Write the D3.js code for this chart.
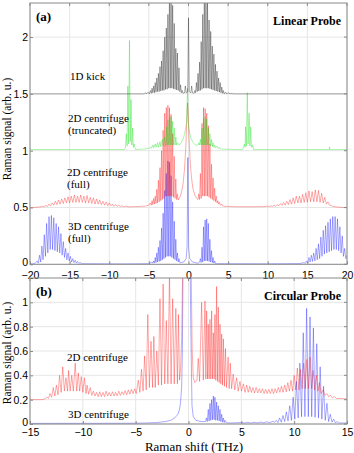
<!DOCTYPE html>
<html>
<head>
<meta charset="utf-8">
<script src="https://cdn.jsdelivr.net/npm/d3@7"></script>
<style>
  body { margin: 0; background: #fff; }
  svg text { fill: #000; }
</style>
</head>
<body>
<div id="chart-area"></div>
<script>
// ---- panel (a): linear probe, traces offset by 0.5 ----
const xTicksA = [-20, -15, -10, -5, 0, 5, 10, 15, 20];
const yTicksA = [0, 0.5, 1, 1.5, 2];

const kick1D = [[-20,1.5],[-5.6,1.5],[-5.4,1.51],[-5.3,1.5],[-5.1,1.515],[-4.95,1.5],
  [-4.8,1.53],[-4.7,1.505],[-4.6,1.55],[-4.5,1.51],[-4.4,1.57],[-4.3,1.51],[-4.2,1.6],[-4.1,1.515],[-4.0,1.64],[-3.9,1.52],
  [-3.8,1.68],[-3.7,1.52],[-3.6,1.74],[-3.5,1.525],[-3.4,1.79],[-3.3,1.53],[-3.2,1.88],[-3.1,1.53],[-3.0,2.0],[-2.9,1.54],
  [-2.8,2.08],[-2.7,1.54],[-2.6,2.2],[-2.5,1.55],[-2.4,2.4],[-2.3,1.55],[-2.2,2.4],[-2.1,1.55],[-2.0,2.28],[-1.9,1.545],
  [-1.8,2.12],[-1.7,1.54],[-1.6,1.9],[-1.5,1.535],[-1.4,1.86],[-1.3,1.53],[-1.2,1.73],[-1.1,1.52],[-1.0,1.58],[-0.9,1.51],
  [-0.8,1.53],[-0.7,1.505],[-0.5,1.51],[-0.4,1.57],[-0.3,1.51],[-0.1,1.52],[0,2.17],[0.1,1.52],[0.3,1.51],[0.4,1.57],[0.5,1.51],
  [0.7,1.505],[0.8,1.53],[0.9,1.51],[1.0,1.6],[1.1,1.52],[1.2,1.68],[1.3,1.525],[1.4,1.78],[1.5,1.53],[1.6,1.96],[1.7,1.54],
  [1.8,2.2],[1.9,1.55],[2.0,2.4],[2.1,1.55],[2.2,2.4],[2.3,1.55],[2.4,2.3],[2.5,1.55],[2.6,2.15],[2.7,1.545],[2.8,2.05],
  [2.9,1.54],[3.0,1.92],[3.1,1.535],[3.2,1.85],[3.3,1.53],[3.4,1.76],[3.5,1.525],[3.6,1.7],[3.7,1.52],[3.8,1.64],[3.9,1.515],
  [4.0,1.6],[4.1,1.51],[4.2,1.56],[4.3,1.505],[4.4,1.53],[4.5,1.5],[4.7,1.515],[4.8,1.5],[5.1,1.51],[5.2,1.5],[5.5,1.505],
  [5.6,1.5],[20,1.5]];

const centrifuge2DTrunc = [[-20,1.01],[-8.1,1.01],[-7.95,1.03],[-7.85,1.15],[-7.75,1.04],[-7.65,1.57],[-7.55,1.06],
  [-7.45,1.97],[-7.35,1.08],[-7.25,1.45],[-7.15,1.05],[-7.05,1.2],[-6.95,1.03],[-6.85,1.06],[-6.7,1.01],[-5.5,1.015],[-5.0,1.02],
  [-4.8,1.03],[-4.7,1.02],[-4.5,1.05],[-4.4,1.025],[-4.2,1.06],[-4.1,1.03],[-3.9,1.07],[-3.8,1.03],[-3.6,1.08],[-3.5,1.035],
  [-3.3,1.1],[-3.2,1.04],[-3.0,1.12],[-2.9,1.04],[-2.8,1.21],[-2.7,1.05],[-2.6,1.27],[-2.5,1.05],[-2.4,1.3],[-2.3,1.05],
  [-2.2,1.3],[-2.1,1.05],[-2.0,1.26],[-1.9,1.05],[-1.8,1.2],[-1.7,1.05],[-1.6,1.12],[-1.5,1.05],[-1.4,1.07],
  [-1.2,1.05],[-0.9,1.07],[-0.6,1.12],[-0.4,1.18],[-0.25,1.25],[-0.12,1.55],[-0.05,1.25],[0.1,1.17],[0.3,1.11],[0.6,1.07],
  [0.9,1.05],[1.2,1.05],[1.3,1.07],[1.4,1.05],[1.5,1.1],[1.6,1.05],[1.7,1.2],[1.8,1.05],[1.9,1.28],[2.0,1.05],[2.1,1.3],
  [2.2,1.05],[2.3,1.28],[2.4,1.05],[2.5,1.2],[2.6,1.05],[2.7,1.15],[2.8,1.04],[2.9,1.1],[3.0,1.035],[3.1,1.07],[3.2,1.03],
  [3.3,1.05],[3.4,1.025],[3.6,1.04],[3.7,1.02],[3.9,1.03],[4.0,1.015],[5,1.012],[6.8,1.01],[6.95,1.03],[7.05,1.06],[7.15,1.03],
  [7.2,1.21],[7.3,1.04],[7.42,1.51],[7.52,1.06],[7.65,1.33],[7.75,1.04],[7.85,1.21],[7.95,1.03],[8.1,1.05],[8.2,1.01],
  [17.75,1.01],[17.8,1.035],[17.85,1.01],[20,1.01]];

const centrifuge2DFull = [[-20,0.5],[-19,0.503],[-18.6,0.506],
  [-18.4,0.51],[-18.2,0.505],[-18.0,0.52],[-17.8,0.51],[-17.6,0.53],[-17.4,0.515],[-17.2,0.54],[-17.0,0.52],[-16.8,0.555],
  [-16.6,0.525],[-16.4,0.565],[-16.2,0.53],[-16.0,0.575],[-15.8,0.535],[-15.6,0.585],[-15.4,0.54],[-15.2,0.595],[-15.0,0.54],
  [-14.8,0.6],[-14.6,0.545],[-14.4,0.61],[-14.2,0.545],[-14.0,0.6],[-13.8,0.545],[-13.6,0.61],[-13.4,0.545],[-13.2,0.6],
  [-13.0,0.54],[-12.8,0.605],[-12.6,0.54],[-12.4,0.59],[-12.2,0.535],[-12.0,0.585],[-11.8,0.53],[-11.6,0.575],[-11.4,0.53],
  [-11.2,0.565],[-11.0,0.525],[-10.8,0.555],[-10.6,0.52],[-10.4,0.55],[-10.2,0.515],[-10.0,0.54],[-9.8,0.515],[-9.6,0.53],
  [-9.4,0.51],[-9.2,0.525],[-9.0,0.51],[-8.8,0.52],[-8.6,0.508],[-8.4,0.515],[-8.2,0.507],[-8.0,0.512],[-7.5,0.506],
  [-6.5,0.508],[-5.5,0.512],
  [-5.0,0.52],[-4.8,0.54],[-4.7,0.52],[-4.6,0.56],[-4.5,0.525],[-4.4,0.58],[-4.3,0.53],[-4.2,0.6],[-4.1,0.535],[-4.0,0.66],
  [-3.9,0.54],[-3.8,0.74],[-3.7,0.55],[-3.6,0.85],[-3.5,0.56],[-3.4,1.0],[-3.3,0.57],[-3.2,1.18],[-3.1,0.58],[-3.0,1.33],
  [-2.9,0.6],[-2.8,1.38],[-2.7,0.6],[-2.6,1.4],[-2.5,0.6],[-2.4,1.38],[-2.3,0.6],[-2.2,1.32],[-2.1,0.6],[-2.0,1.15],[-1.9,0.59],
  [-1.8,0.95],[-1.7,0.58],[-1.6,0.75],[-1.5,0.57],[-1.4,0.62],[-1.3,0.565],
  [-1.1,0.59],[-0.9,0.63],[-0.7,0.7],[-0.5,0.84],[-0.35,1.02],[-0.22,1.25],[-0.12,1.42],[-0.02,1.3],[0.08,1.1],[0.2,0.92],
  [0.35,0.78],[0.55,0.67],[0.8,0.61],[1.05,0.58],[1.2,0.57],
  [1.3,0.62],[1.4,0.57],[1.5,0.8],[1.6,0.58],[1.7,1.24],[1.8,0.6],[1.9,1.38],[2.0,0.6],[2.1,1.37],[2.2,0.6],[2.3,1.33],
  [2.4,0.6],[2.5,1.22],[2.6,0.59],[2.7,1.06],[2.8,0.58],[2.9,0.88],[3.0,0.57],[3.1,0.76],[3.2,0.56],[3.3,0.67],[3.4,0.55],
  [3.5,0.6],[3.6,0.54],[3.7,0.56],[3.8,0.53],[3.9,0.545],[4.0,0.52],[4.2,0.53],[4.3,0.515],[4.6,0.51],[6,0.507],[8,0.507],
  [9.5,0.508],
  [10.0,0.512],[10.2,0.508],[10.4,0.515],[10.6,0.51],[10.8,0.52],[11.0,0.512],[11.2,0.525],[11.4,0.515],[11.6,0.535],
  [11.8,0.518],[12.0,0.545],[12.2,0.52],[12.4,0.555],[12.6,0.525],[12.8,0.57],[13.0,0.53],[13.2,0.585],[13.4,0.535],
  [13.6,0.6],[13.8,0.54],[14.0,0.6],[14.2,0.54],[14.4,0.615],[14.6,0.545],[14.8,0.63],[15.0,0.545],[15.2,0.645],[15.4,0.55],
  [15.6,0.64],[15.8,0.55],[16.0,0.655],[16.2,0.55],[16.4,0.65],[16.6,0.545],[16.8,0.625],[17.0,0.54],[17.2,0.59],[17.4,0.53],
  [17.6,0.55],[17.8,0.52],[18.0,0.52],[18.2,0.51],[18.6,0.505],[19.5,0.5],[20,0.497]];

const centrifuge3DFull = [[-20,0.003],[-19.4,0.005],
  [-19.1,0.03],[-18.95,0.01],[-18.8,0.08],[-18.65,0.02],[-18.5,0.16],[-18.35,0.04],[-18.2,0.26],[-18.05,0.07],[-17.9,0.36],
  [-17.75,0.1],[-17.6,0.42],[-17.45,0.13],[-17.3,0.43],[-17.15,0.13],[-17.0,0.41],[-16.85,0.12],[-16.7,0.36],[-16.55,0.11],
  [-16.4,0.33],[-16.25,0.1],[-16.1,0.27],[-15.95,0.08],[-15.8,0.2],[-15.65,0.06],[-15.5,0.14],[-15.35,0.04],[-15.2,0.1],
  [-15.05,0.03],[-14.9,0.07],[-14.75,0.02],[-14.6,0.05],[-14.45,0.015],[-14.3,0.035],[-14.15,0.01],[-14.0,0.025],
  [-13.85,0.008],[-13.7,0.015],[-13.4,0.005],[-8,0.003],[-5,0.005],
  [-4.6,0.02],[-4.5,0.01],[-4.4,0.03],[-4.3,0.012],[-4.2,0.06],[-4.1,0.015],[-4.0,0.1],[-3.9,0.02],[-3.8,0.15],[-3.7,0.025],
  [-3.6,0.21],[-3.5,0.03],[-3.4,0.32],[-3.3,0.04],[-3.2,0.45],[-3.1,0.05],[-3.0,0.65],[-2.9,0.06],[-2.8,0.8],[-2.7,0.07],
  [-2.6,0.91],[-2.5,0.07],[-2.4,0.9],[-2.3,0.07],[-2.2,0.78],[-2.1,0.06],[-2.0,0.55],[-1.9,0.05],[-1.8,0.38],[-1.7,0.04],
  [-1.6,0.22],[-1.5,0.03],[-1.4,0.1],[-1.3,0.02],[-1.2,0.05],[-1.1,0.015],
  [-0.6,0.02],[-0.3,0.05],[-0.18,0.15],[-0.08,0.94],[0.02,0.15],[0.15,0.05],[0.5,0.02],[1.2,0.01],
  [1.4,0.02],[1.5,0.05],[1.6,0.015],[1.7,0.15],[1.8,0.02],[1.9,0.33],[2.0,0.03],[2.1,0.39],[2.2,0.03],[2.3,0.4],[2.4,0.03],
  [2.5,0.36],[2.6,0.025],[2.7,0.22],[2.8,0.02],[2.9,0.12],[3.0,0.015],[3.1,0.06],[3.2,0.01],[3.3,0.03],[3.4,0.008],
  [3.6,0.005],[10,0.004],[14,0.006],
  [14.6,0.015],[14.75,0.008],[14.9,0.03],[15.05,0.012],[15.2,0.06],[15.35,0.02],[15.5,0.08],[15.65,0.025],[15.8,0.1],
  [15.95,0.03],[16.1,0.14],[16.25,0.04],[16.4,0.18],[16.55,0.05],[16.7,0.24],[16.85,0.07],[17.0,0.3],[17.15,0.09],[17.3,0.34],
  [17.45,0.1],[17.6,0.37],[17.75,0.11],[17.9,0.4],[18.05,0.12],[18.2,0.42],[18.35,0.13],[18.5,0.42],[18.65,0.13],[18.8,0.4],
  [18.95,0.12],[19.1,0.33],[19.25,0.1],[19.4,0.25],[19.55,0.07],[19.7,0.14],[19.85,0.05],[20,0.08]];

// ---- panel (b): circular probe ----
const xTicksB = [-15, -10, -5, 0, 5, 10, 15];
const yTicksB = [0, 0.2, 0.4, 0.6, 0.8, 1];

const circ2D = [[-15,0.2],[-14,0.2],[-13.6,0.205],
  [-13.4,0.22],[-13.25,0.21],[-13.1,0.25],[-12.95,0.22],[-12.8,0.3],[-12.65,0.23],[-12.5,0.32],[-12.35,0.24],[-12.2,0.4],
  [-12.05,0.26],[-11.9,0.47],[-11.75,0.27],[-11.6,0.38],[-11.45,0.27],[-11.35,0.44],[-11.2,0.27],[-11.05,0.4],[-10.9,0.27],
  [-10.72,0.5],[-10.58,0.27],[-10.43,0.42],[-10.3,0.27],[-10.15,0.39],[-10.0,0.26],[-9.85,0.38],[-9.7,0.25],[-9.6,0.32],
  [-9.45,0.245],[-9.3,0.3],[-9.15,0.235],
  [-9.0,0.27],[-8.85,0.23],[-8.7,0.26],[-8.55,0.225],[-8.4,0.265],[-8.25,0.225],[-8.1,0.26],[-7.95,0.225],[-7.8,0.27],
  [-7.65,0.23],[-7.5,0.26],[-7.35,0.23],[-7.2,0.265],[-7.05,0.23],[-6.9,0.26],[-6.75,0.23],[-6.6,0.27],[-6.45,0.235],
  [-6.3,0.265],[-6.15,0.24],[-6.0,0.275],[-5.85,0.24],[-5.7,0.28],[-5.55,0.245],[-5.4,0.285],[-5.25,0.25],[-5.1,0.29],
  [-4.95,0.25],
  [-4.75,0.36],[-4.6,0.26],[-4.45,0.45],[-4.3,0.27],[-4.15,0.56],[-4.0,0.28],[-3.85,0.9],[-3.7,0.3],[-3.55,0.68],[-3.4,0.3],
  [-3.28,0.72],[-3.15,0.3],[-3.0,0.6],[-2.85,0.32],[-2.7,1.03],[-2.55,0.32],[-2.4,1.15],[-2.25,0.33],[-2.1,0.85],[-1.95,0.33],
  [-1.8,1.25],[-1.65,0.33],[-1.5,1.03],[-1.35,0.33],[-1.2,0.95],[-1.05,0.33],[-0.95,0.9],[-0.85,0.36],
  [-0.75,0.45],[-0.65,0.7],[-0.55,1.3],[0.25,1.3],[0.35,0.6],[0.45,0.38],[0.6,0.34],
  [0.8,0.36],[0.92,0.54],[1.05,0.35],[1.24,1.0],[1.4,0.36],[1.56,1.01],[1.64,0.37],[1.72,0.93],[1.8,0.37],[1.87,0.82],
  [1.95,0.37],[2.03,0.86],[2.11,0.37],[2.19,0.93],[2.27,0.37],[2.35,0.75],[2.43,0.37],[2.5,0.9],[2.58,0.36],[2.66,1.13],
  [2.74,0.35],[2.82,0.96],[2.9,0.34],[2.98,0.82],[3.06,0.33],[3.14,0.74],[3.22,0.32],[3.3,0.7],[3.4,0.31],[3.5,0.62],
  [3.6,0.3],[3.75,0.55],[3.85,0.29],[3.95,0.5],[4.08,0.29],[4.23,0.41],[4.38,0.28],[4.55,0.38],[4.7,0.27],[4.87,0.35],
  [5.02,0.27],[5.2,0.33],[5.35,0.26],[5.5,0.32],[5.65,0.26],[5.8,0.31],[5.95,0.26],[6.1,0.3],[6.25,0.255],[6.4,0.3],
  [6.55,0.255],[6.7,0.29],[6.85,0.255],[7.0,0.29],[7.15,0.25],[7.3,0.285],[7.45,0.25],[7.6,0.285],[7.75,0.25],[7.9,0.29],
  [8.05,0.25],[8.2,0.29],[8.35,0.255],[8.5,0.3],[8.65,0.26],[8.8,0.31],[8.95,0.26],[9.1,0.32],[9.25,0.265],[9.4,0.34],
  [9.55,0.27],[9.7,0.36],[9.85,0.27],[10.0,0.4],[10.15,0.28],[10.3,0.46],[10.45,0.28],[10.6,0.45],[10.75,0.29],[10.9,0.5],
  [11.05,0.29],[11.2,0.53],[11.35,0.29],[11.5,0.55],[11.65,0.29],[11.8,0.44],[11.95,0.28],[12.1,0.4],[12.25,0.27],
  [12.4,0.34],[12.55,0.25],[12.75,0.28],[12.9,0.235],[13.1,0.25],[13.25,0.225],[13.45,0.235],[13.6,0.215],[13.8,0.225],
  [14.0,0.21],[14.5,0.21],[15,0.205]];

const circ3D = [[-15,0.005],[-6,0.006],[-4,0.008],[-3,0.012],[-2.2,0.02],[-1.7,0.03],[-1.3,0.05],[-1.0,0.08],[-0.85,0.12],
  [-0.75,0.18],[-0.65,0.3],[-0.58,0.6],[-0.52,1.3],[0.15,1.3],[0.25,0.6],[0.33,0.15],[0.45,0.06],[0.7,0.03],[1.2,0.02],
  [1.6,0.02],
  [1.7,0.05],[1.78,0.02],[1.87,0.12],[1.95,0.025],[2.03,0.17],[2.11,0.03],[2.19,0.2],[2.27,0.035],[2.35,0.23],[2.43,0.035],
  [2.5,0.22],[2.58,0.03],[2.66,0.18],[2.74,0.03],[2.82,0.15],[2.9,0.025],[2.98,0.12],[3.06,0.02],[3.14,0.08],[3.22,0.015],
  [3.3,0.05],[3.38,0.012],[3.45,0.03],[3.6,0.01],
  [4,0.008],[5,0.012],[5.3,0.008],[5.6,0.013],[5.9,0.008],[6.2,0.014],[6.5,0.009],[6.8,0.016],[7.1,0.01],[7.4,0.018],
  [7.7,0.012],[8.0,0.022],[8.14,0.014],
  [8.3,0.03],[8.46,0.012],[8.62,0.05],[8.78,0.015],[8.94,0.07],[9.1,0.02],[9.26,0.1],[9.42,0.025],[9.58,0.15],[9.74,0.03],
  [9.9,0.22],[10.06,0.04],[10.22,0.35],[10.38,0.05],[10.54,0.5],[10.7,0.06],[10.86,0.75],[11.02,0.06],[11.18,0.95],
  [11.34,0.06],[11.5,0.88],[11.66,0.06],[11.82,0.79],[11.98,0.055],[12.14,0.66],[12.3,0.05],[12.46,0.47],[12.62,0.04],
  [12.78,0.31],[12.94,0.03],[13.1,0.17],[13.26,0.02],[13.42,0.08],[13.58,0.015],[13.74,0.04],[13.9,0.01],[14.06,0.02],
  [14.3,0.008],[15,0.008]];

const width = 354, height = 453;
const svg = d3.select("#chart-area").append("svg")
    .attr("width", width)
    .attr("height", height)
    .style("font-family", "'Liberation Serif', 'Times New Roman', serif");

const left = 30, right = 347;

function drawPanel(cfg) {
    const x = d3.scaleLinear().domain(cfg.xDomain).range([left, right]);
    const y = d3.scaleLinear().domain(cfg.yDomain).range([cfg.bottom, cfg.top]);
    const g = svg.append("g");

    // grid
    g.selectAll(".vg").data(cfg.xTicks).enter().append("line")
        .attr("x1", d => x(d)).attr("x2", d => x(d))
        .attr("y1", cfg.top).attr("y2", cfg.bottom)
        .attr("stroke", "#e6e6e6").attr("stroke-width", 1);
    g.selectAll(".hg").data(cfg.yTicks).enter().append("line")
        .attr("x1", left).attr("x2", right)
        .attr("y1", d => y(d)).attr("y2", d => y(d))
        .attr("stroke", "#e6e6e6").attr("stroke-width", 1);

    const clipId = "clip-" + cfg.name;
    svg.append("clipPath").attr("id", clipId).append("rect")
        .attr("x", left).attr("y", cfg.top)
        .attr("width", right - left).attr("height", cfg.bottom - cfg.top);

    const line = d3.line().x(d => x(d[0])).y(d => y(d[1]));
    g.append("g").attr("clip-path", `url(#${clipId})`)
        .selectAll("path").data(cfg.series).enter().append("path")
        .attr("d", d => line(d.values))
        .attr("fill", "none")
        .attr("stroke", d => d.color)
        .attr("stroke-opacity", 0.75)
        .attr("stroke-width", 0.45);

    // box with inward ticks
    g.append("rect").attr("x", left).attr("y", cfg.top)
        .attr("width", right - left).attr("height", cfg.bottom - cfg.top)
        .attr("fill", "none").attr("stroke", "#8a8a8a").attr("stroke-width", 1);

    const xa = g.append("g").attr("transform", `translate(0,${cfg.bottom})`)
        .call(d3.axisBottom(x).tickValues(cfg.xTicks).tickSize(-3).tickPadding(cfg.xPad).tickFormat(d3.format("d")));
    const ya = g.append("g").attr("transform", `translate(${left},0)`)
        .call(d3.axisLeft(y).tickValues(cfg.yTicks).tickSize(-3).tickPadding(2).tickFormat(d => d));
    [xa, ya].forEach(a => {
        a.select(".domain").remove();
        a.selectAll(".tick line").attr("stroke", "#8a8a8a");
        a.selectAll("text").style("font-family", "'Liberation Sans', Arial, sans-serif")
            .style("font-size", "10.5px").attr("fill", "#222");
    });
    // lift the zero label a touch so it clears the first x label
    ya.selectAll(".tick text").filter(d => d === 0).attr("dy", "0.1em");
    g.selectAll(".rt").data(cfg.yTicks).enter().append("line")
        .attr("x1", right - 3).attr("x2", right)
        .attr("y1", d => y(d)).attr("y2", d => y(d)).attr("stroke", "#8a8a8a");
    g.selectAll(".tt").data(cfg.xTicks).enter().append("line")
        .attr("x1", d => x(d)).attr("x2", d => x(d))
        .attr("y1", cfg.top).attr("y2", cfg.top + 3).attr("stroke", "#8a8a8a");

    // y label
    svg.append("text")
        .attr("transform", `translate(${cfg.labelX},${cfg.labelY}) rotate(-90)`)
        .attr("text-anchor", "middle").style("font-size", "11.5px")
        .text("Raman signal (arb. u.)");

    // panel letter and title
    svg.append("text").attr("x", 36).attr("y", cfg.top + 18)
        .style("font-size", "13px").style("font-weight", "bold").text(cfg.letter);
    svg.append("text").attr("x", 341).attr("y", cfg.top + 22).attr("text-anchor", "end")
        .style("font-size", "12px").style("font-weight", "bold").text(cfg.title);

    cfg.notes.forEach(n => {
        svg.append("text").attr("x", n.x).attr("y", n.y)
            .style("font-size", "11px").text(n.text);
    });
    return { x, y };
}

drawPanel({
    name: "a", letter: "(a)", title: "Linear Probe",
    xDomain: [-20, 20], yDomain: [0, 2.3], top: 3, bottom: 264.3, xPad: 7,
    xTicks: xTicksA, yTicks: yTicksA, labelX: 10.5, labelY: 129,
    series: [
        { values: centrifuge3DFull, color: "#0000ff" },
        { values: centrifuge2DFull, color: "#ff0000" },
        { values: centrifuge2DTrunc, color: "#00dd00" },
        { values: kick1D, color: "#000000" }
    ],
    notes: [
        { x: 70, y: 80, text: "1D kick" },
        { x: 68, y: 122, text: "2D centrifuge" },
        { x: 68, y: 134, text: "(truncated)" },
        { x: 67, y: 176, text: "2D centrifuge" },
        { x: 67, y: 188, text: "(full)" },
        { x: 68, y: 230, text: "3D centrifuge" },
        { x: 68, y: 242, text: "(full)" }
    ]
});

drawPanel({
    name: "b", letter: "(b)", title: "Circular Probe",
    xDomain: [-15, 15], yDomain: [0, 1.2], top: 278, bottom: 424, xPad: 5,
    xTicks: xTicksB, yTicks: yTicksB, labelX: 10.5, labelY: 353,
    series: [
        { values: circ3D, color: "#0000ff" },
        { values: circ2D, color: "#ff0000" }
    ],
    notes: [
        { x: 67, y: 361, text: "2D centrifuge" },
        { x: 68, y: 418, text: "3D centrifuge" }
    ]
});

svg.append("text").attr("x", 194).attr("y", 451).attr("text-anchor", "middle")
    .style("font-size", "13px").text("Raman shift (THz)");
</script>
</body>
</html>
